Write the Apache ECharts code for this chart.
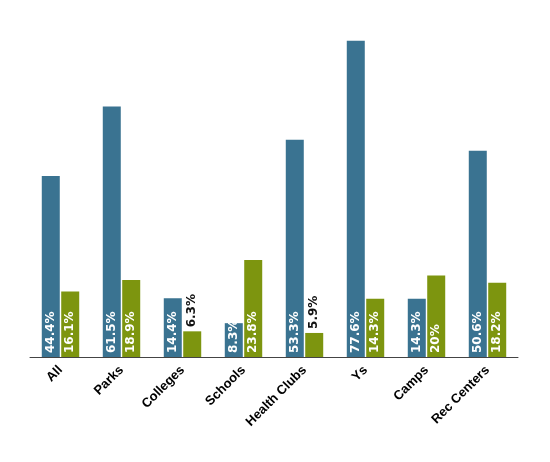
<!DOCTYPE html>
<html>
<head>
<meta charset="utf-8">
<script src="https://cdn.jsdelivr.net/npm/echarts@6/dist/echarts.min.js"></script>
<style>
  html, body { margin: 0; padding: 0; background: #fff; }
  #chart { width: 550px; height: 462px; }
</style>
</head>
<body>
<div id="chart"></div>
<script>
var categories = ['All', 'Parks', 'Colleges', 'Schools', 'Health Clubs', 'Ys', 'Camps', 'Rec Centers'];
var blueValues = [44.4, 61.5, 14.4, 8.3, 53.3, 77.6, 14.3, 50.6];
var greenValues = [16.1, 18.9, 6.3, 23.8, 5.9, 14.3, 20, 18.2];

var labelFont = '"DejaVu Sans", sans-serif';
var axisFont = '"Liberation Sans", Arial, sans-serif';

// short bars get their label outside, in black
var makeData = function (values) {
    return values.map(function (v) {
        if (v < 8) {
            return {
                value: v,
                label: { position: 'top', color: '#111', align: 'left', verticalAlign: 'middle' }
            };
        }
        return v;
    });
};

var barLabel = {
    show: true,
    position: 'insideBottom',
    rotate: 90,
    align: 'left',
    verticalAlign: 'middle',
    distance: 4,
    color: '#fff',
    fontWeight: 'bold',
    fontSize: 12,
    fontFamily: labelFont,
    formatter: function (p) { return p.value + '%'; }
};

var myChart = echarts.init(document.getElementById('chart'));

var option = {
    animation: false,
    grid: {
        left: 30,
        right: 32,
        top: 31,
        bottom: 105
    },
    xAxis: {
        type: 'category',
        data: categories,
        axisTick: { show: false },
        axisLine: { lineStyle: { color: '#444', width: 1 } },
        axisLabel: {
            interval: 0,
            rotate: 45,
            color: '#000',
            fontWeight: 'bold',
            fontSize: 13,
            fontFamily: axisFont,
            margin: 11
        }
    },
    yAxis: {
        type: 'value',
        min: 0,
        max: 80,
        show: false,
        splitLine: { show: false }
    },
    series: [
        {
            name: 'blue',
            type: 'bar',
            data: makeData(blueValues),
            barWidth: 18,
            barGap: '8%',
            itemStyle: { color: '#3a7391' },
            label: barLabel
        },
        {
            name: 'green',
            type: 'bar',
            data: makeData(greenValues),
            barWidth: 18,
            itemStyle: { color: '#7d950f' },
            label: barLabel
        }
    ]
};

myChart.setOption(option);
</script>
</body>
</html>
